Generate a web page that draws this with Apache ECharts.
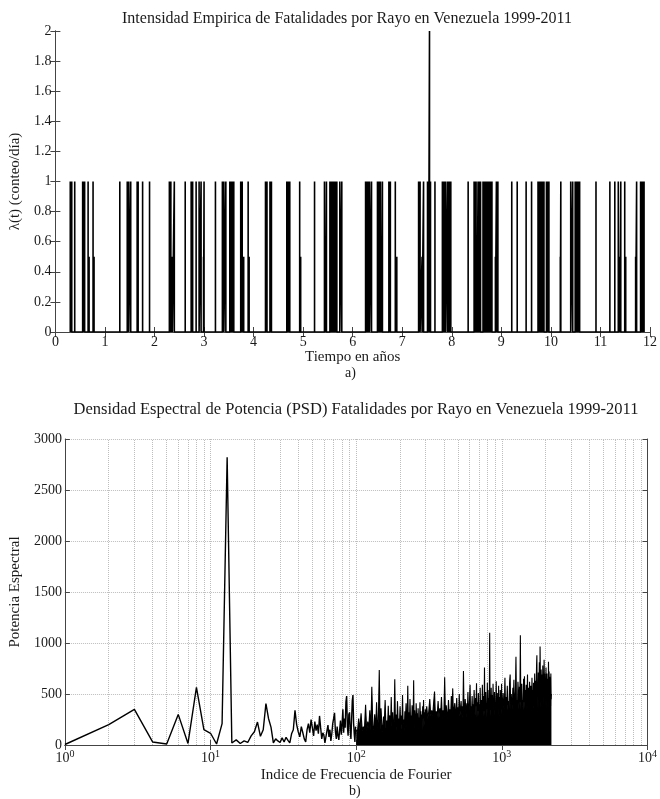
<!DOCTYPE html>
<html>
<head>
<meta charset="utf-8">
<script src="https://cdn.jsdelivr.net/npm/echarts@6/dist/echarts.min.js"></script>
<style>
html,body{margin:0;padding:0;background:#fff;}
#chart{width:660px;height:799px;}
</style>
</head>
<body>
<div id="chart"></div>
<script>
// ---- Panel a): empirical intensity, event times (years) and daily counts ----
const eventYears = [
 0.30,0.33,0.39,0.55,0.57,0.59,0.66,0.68,0.76,0.78,
 1.30,1.45,1.48,1.52,1.65,1.67,1.76,1.90,
 2.30,2.33,2.36,2.40,2.62,2.74,2.77,2.84,2.90,2.94,2.99,3.00,
 3.23,3.37,3.40,3.44,3.52,3.54,3.56,3.58,3.60,3.74,3.77,3.80,3.89,3.91,
 4.24,4.27,4.33,4.36,4.67,4.69,4.71,4.73,4.93,4.95,
 5.23,5.43,5.45,5.47,5.54,5.56,5.58,5.60,5.62,5.64,5.66,5.68,5.74,5.78,
 6.26,6.28,6.31,6.34,6.38,6.50,6.53,6.56,6.58,6.60,6.73,6.76,6.86,6.89,
 7.33,7.36,7.40,7.43,7.51,7.53,7.55,7.57,7.66,7.81,7.84,7.87,7.91,7.93,7.95,7.98,
 8.33,8.45,8.47,8.49,8.51,8.53,8.55,8.58,8.63,8.65,8.68,8.71,8.73,8.76,8.79,8.81,8.88,8.90,8.93,
 9.21,9.32,9.50,9.61,9.74,9.77,9.80,9.83,9.86,9.91,9.94,9.96,
 10.19,10.20,10.40,10.44,10.49,10.51,10.53,10.55,10.58,10.91,
 11.19,11.29,11.36,11.39,11.41,11.49,11.51,11.71,11.73,11.81,11.83,11.86,11.88
];
const eventCounts = [
 1,1,1,1,1,1,1,0.5,1,0.5,
 1,1,1,1,1,1,1,1,
 1,1,0.5,1,1,1,1,1,1,1,0.5,1,
 1,1,1,1,1,1,1,1,1,1,1,0.5,1,0.5,
 1,1,1,1,1,1,1,1,1,0.5,
 1,1,0.5,1,1,1,1,1,1,1,1,1,1,1,
 1,1,1,1,1,1,1,1,0.5,1,1,1,1,0.5,
 1,1,0.5,1,1,1,2,1,1,1,1,1,1,1,1,1,
 1,1,1,1,0.5,1,1,1,1,1,1,1,1,1,1,1,0.5,1,1,
 1,1,1,1,1,1,1,1,1,1,1,1,
 0.5,1,1,1,1,1,1,1,1,1,
 1,1,1,0.5,1,1,0.5,0.5,1,1,1,1,1
];

// ---- Panel b): PSD, Fourier index segments (start, step) and values ----
const psdStartA = 1,   psdStepA = 1;
const psdValuesA = [5,200,350,30,10,300,15,565,150,115,10,210,2820,20,50,15,40,25,90,130,
 225,85,150,405,260,175,20,60,40,25,70,30,75,45,20,110,150,340,200,130,
 80,180,120,60,30,150,210,120,250,170,90,230,140,200,110,285,170,60,120,95,
 20,5,140,195,80,150,40,110,210,260,315,130,60,180,90,50,150,240,100,200,
 350,120,260,170,420,480,180,90,300,320,140,60,250,435,490,210,100,30,180];
const psdStartB = 100, psdStepB = 2;
const psdValuesB = [150,130,260,150,310,140,180,160,395,135,
 230,170,340,145,570,190,150,300,135,420,
 170,250,735,150,360,200,130,280,220,440,
 160,240,140,385,210,290,135,470,180,320,
 155,230,645,170,300,140,430,220,260,160,
 380,200,290,150,490,210,250,135,330,240,
 410,170,280,580,190,320,150,450,240,290,
 175,390,220,260,635,165,340,230,145,410,
 250,310,180,360,200,270,150,420,230,330,
 190,300,145,380,260,440,175,320,230,350];
const psdStartC = 300, psdStepC = 5;
const psdValuesC = [270,380,260,330,450,280,340,290,410,525,
 260,330,280,430,265,360,300,470,255,340,
 290,665,270,390,310,260,440,300,350,275,
 480,320,555,265,350,410,285,330,460,260,
 370,300,500,280,340,430,290,380,265,725,
 330,285,450,370,270,410,320,520,280,340,
 440,590,260,380,310,480,290,400,275,540,
 350,290,460,380,605,265,420,330,510,285,
 400,310,560,270,440,360,295,590,380,275,
 480,330,760,290,430,520,270,410,350,610,
 300,460,265,540,380,1100,280,420,340,560,
 295,400,490,275,600,370,440,290,520,340,
 420,270,470,625,320,380,510,285,430,350,
 580,295,410,470,275,540,360,420,300,600];
const psdStartD = 1000, psdStepD = 10;
const psdValuesD = [420,340,510,380,350,660,335,470,390,580,
 345,430,360,610,690,335,500,410,350,560,
 400,640,340,450,530,865,360,440,335,620,
 480,350,570,420,1075,345,520,600,380,440,
 340,650,420,675,355,540,400,590,345,480,
 690,360,470,560,340,620,430,350,580,490,
 345,660,420,540,355,610,450,380,700,440,
 340,630,520,760,880,360,590,470,710,350,
 650,810,420,965,500,360,740,560,430,690,
 345,780,480,620,400,835,540,700,380,640,
 470,760,350,590,700,440,650,520,360,815,
 560,720,345,670,480,610,380,700,450,500];
const minorGridAt = [2,3,4,5,6,7,8,9,20,30,40,50,60,70,80,90,
 200,300,400,500,600,700,800,900,2000,3000,4000,5000,6000,7000,8000,9000];

// ---- build series data ----
const intensityData = [];
for (let i = 0; i < eventYears.length; i++) {
  intensityData.push([eventYears[i], 0], [eventYears[i], eventCounts[i]], [eventYears[i], 0]);
}
function seg(start, step, vals) {
  return vals.map((v, i) => [start + i * step, v]);
}
const psdLow = seg(psdStartA, psdStepA, psdValuesA);
const psdDense = [].concat(
  seg(psdStartB, psdStepB, psdValuesB),
  seg(psdStartC, psdStepC, psdValuesC),
  seg(psdStartD, psdStepD, psdValuesD));

const FONT = 'Liberation Serif';
const TXT = '#1a1a1a';
const AXC = '#444';
const GRIDC = '#bdbdbd';

const chart = echarts.init(document.getElementById('chart'), null, {renderer: 'canvas'});
const tickIn = {show: true, inside: true, length: 5, lineStyle: {color: AXC, width: 1}};

chart.setOption({
  animation: false,
  backgroundColor: '#fff',
  textStyle: {fontFamily: FONT, color: TXT},
  title: [
    {text: 'Intensidad Empirica de Fatalidades por Rayo en Venezuela 1999-2011',
     left: 342, top: 6, textAlign: 'center',
     textStyle: {fontFamily: FONT, fontSize: 16, fontWeight: 'normal', color: TXT}},
    {text: 'Densidad Espectral de Potencia (PSD) Fatalidades por Rayo en Venezuela 1999-2011',
     left: 351, top: 396, textAlign: 'center',
     textStyle: {fontFamily: FONT, fontSize: 16.5, fontWeight: 'normal', color: TXT}}
  ],
  grid: [
    {left: 52, top: 31, width: 600, height: 301},
    {left: 62, top: 439, width: 588, height: 306}
  ],
  xAxis: [
    {gridIndex: 0, type: 'value', min: 0, max: 12, interval: 1, position: 'bottom',
     name: 'Tiempo en años', nameLocation: 'middle', nameGap: 18,
     nameTextStyle: {fontFamily: FONT, fontSize: 15, color: TXT},
     axisLine: {show: true, onZero: false, lineStyle: {color: AXC, width: 1}},
     axisTick: tickIn, splitLine: {show: false},
     axisLabel: {fontFamily: FONT, fontSize: 14, color: TXT, margin: 3}},
    {gridIndex: 0, type: 'value', min: 0, max: 12, interval: 1, position: 'top',
     axisLine: {show: false}, axisTick: tickIn, axisLabel: {show: false}, splitLine: {show: false}},
    {gridIndex: 1, type: 'log', logBase: 10, min: 1, max: 10000, position: 'bottom',
     name: 'Indice de Frecuencia de Fourier', nameLocation: 'middle', nameGap: 23,
     nameTextStyle: {fontFamily: FONT, fontSize: 15, color: TXT},
     axisLine: {show: true, onZero: false, lineStyle: {color: AXC, width: 1}},
     axisTick: tickIn,
     splitLine: {show: true, lineStyle: {color: GRIDC, type: 'dotted', width: 1}},
     axisLabel: {fontFamily: FONT, fontSize: 14, color: TXT, margin: 4,
       formatter: function (v) { return '10{sup|' + Math.round(Math.log10(v)) + '}'; },
       rich: {sup: {fontFamily: FONT, fontSize: 10, verticalAlign: 'top', padding: [0, 0, 8, 0], color: TXT}}}},
    {gridIndex: 1, type: 'log', logBase: 10, min: 1, max: 10000, position: 'top',
     axisLine: {show: true, lineStyle: {color: AXC, width: 1}}, axisTick: tickIn,
     axisLabel: {show: false}, splitLine: {show: false}}
  ],
  yAxis: [
    {gridIndex: 0, type: 'value', min: 0, max: 2, interval: 0.2, position: 'left',
     name: 'λ(t) (conteo/día)', nameLocation: 'middle', nameGap: 22,
     nameTextStyle: {fontFamily: FONT, fontSize: 15, color: TXT},
     axisLine: {show: true, lineStyle: {color: AXC, width: 1}},
     axisTick: tickIn, splitLine: {show: false},
     axisLabel: {fontFamily: FONT, fontSize: 14, color: TXT, margin: 4,
       formatter: function (v) { return String(+v.toFixed(1)); }}},
    {gridIndex: 0, type: 'value', min: 0, max: 2, interval: 0.2, position: 'right',
     axisLine: {show: true, lineStyle: {color: AXC, width: 1}}, axisTick: tickIn,
     axisLabel: {show: false}, splitLine: {show: false}},
    {gridIndex: 1, type: 'value', min: 0, max: 3000, interval: 500, position: 'left',
     name: 'Potencia Espectral', nameLocation: 'middle', nameGap: 35,
     nameTextStyle: {fontFamily: FONT, fontSize: 15, color: TXT},
     axisLine: {show: true, lineStyle: {color: AXC, width: 1}},
     axisTick: tickIn,
     splitLine: {show: true, lineStyle: {color: GRIDC, type: 'dotted', width: 1}},
     axisLabel: {fontFamily: FONT, fontSize: 14, color: TXT, margin: 3,
       formatter: function (v) { return String(v); }}},
    {gridIndex: 1, type: 'value', min: 0, max: 3000, interval: 500, position: 'right',
     axisLine: {show: true, lineStyle: {color: AXC, width: 1}}, axisTick: tickIn,
     axisLabel: {show: false}, splitLine: {show: false}}
  ],
  series: [
    {type: 'line', xAxisIndex: 0, yAxisIndex: 0, data: intensityData,
     symbol: 'none', lineStyle: {color: '#000', width: 1.6}, z: 3},
    {type: 'line', xAxisIndex: 2, yAxisIndex: 2, data: [[1, 0]], symbol: 'none',
     lineStyle: {opacity: 0}, z: 1, silent: true,
     markLine: {silent: true, z: 1, symbol: 'none', label: {show: false},
       lineStyle: {color: GRIDC, type: 'dotted', width: 1},
       data: minorGridAt.map(v => ({xAxis: v}))}},
    {type: 'line', xAxisIndex: 2, yAxisIndex: 2, data: psdLow,
     symbol: 'none', lineStyle: {color: '#000', width: 1.4}, z: 3},
    {type: 'line', xAxisIndex: 2, yAxisIndex: 2, data: psdDense,
     symbol: 'none', lineStyle: {color: '#000', width: 1.1},
     areaStyle: {color: '#000', opacity: 1}, z: 3}
  ],
  graphic: [
    {type: 'text', left: 345, top: 366, style: {text: 'a)', font: '14px "Liberation Serif"', fill: TXT}},
    {type: 'text', left: 349, top: 784, style: {text: 'b)', font: '14px "Liberation Serif"', fill: TXT}}
  ]
});
</script>
</body>
</html>
